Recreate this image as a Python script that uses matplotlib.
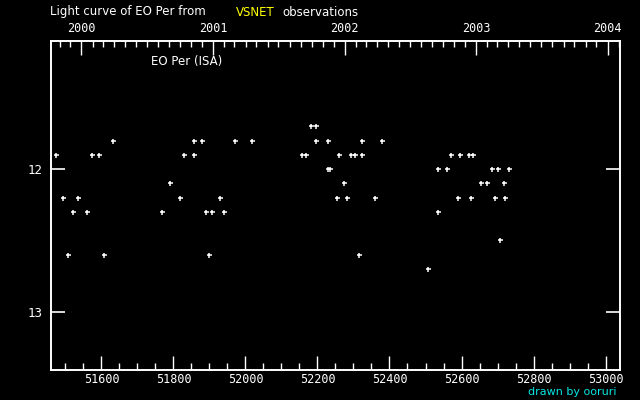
import matplotlib
matplotlib.use("Agg")
import matplotlib.pyplot as plt
from datetime import date

# JD - 2400000 and visual magnitude
jd = [51475, 51492, 51506, 51522, 51536, 51561, 51575, 51594, 51608, 51631,
      51769, 51789, 51819, 51828, 51858, 51858, 51878, 51889, 51900, 51908,
      51928, 51939, 51972, 52019, 52156, 52169, 52181, 52197, 52197, 52228,
      52228, 52236, 52253, 52261, 52275, 52281, 52293, 52303, 52314, 52325,
      52325, 52361, 52378, 52506, 52536, 52536, 52561, 52572, 52589, 52597,
      52622, 52625, 52633, 52653, 52672, 52686, 52694, 52700, 52708, 52719,
      52722, 52733]
mag = [11.9, 12.2, 12.6, 12.3, 12.2, 12.3, 11.9, 11.9, 12.6, 11.8,
       12.3, 12.1, 12.2, 11.9, 11.8, 11.9, 11.8, 12.3, 12.6, 12.3,
       12.2, 12.3, 11.8, 11.8, 11.9, 11.9, 11.7, 11.7, 11.8, 11.8,
       12.0, 12.0, 12.2, 11.9, 12.1, 12.2, 11.9, 11.9, 12.6, 11.8,
       11.9, 12.2, 11.8, 12.7, 12.0, 12.3, 12.0, 11.9, 12.2, 11.9,
       11.9, 12.2, 11.9, 12.1, 12.1, 12.0, 12.2, 12.0, 12.5, 12.1,
       12.2, 12.0]

xticks = [51600, 51800, 52000, 52200, 52400, 52600, 52800, 53000]
years = [2000, 2001, 2002, 2003, 2004]
yticks = [12, 13]


def to_jd(d):
    return (d - date(2000, 1, 1)).days + 51544.5


fig = plt.figure(figsize=(6.4, 4.0), dpi=100, facecolor="black")
ax = fig.add_axes([0.0792, 0.0743, 0.890, 0.824], facecolor="black")

ax.plot(jd, mag, linestyle="none", marker="+", color="white",
        markersize=3.6, markeredgewidth=1.1)

ax.set_xlim(51459, 53041)
ax.set_ylim(13.41, 11.10)

for s in ax.spines.values():
    s.set_color("white")
    s.set_linewidth(1.2)

mono = "DejaVu Sans Mono"
ax.set_xticks(xticks)
ax.set_xticklabels([str(v) for v in xticks], family=mono, fontsize=8.5)
ax.set_xticks(range(51500, 53041, 50), minor=True)
ax.set_yticks(yticks)
ax.set_yticklabels([str(v) for v in yticks], family=mono, fontsize=9)
ax.tick_params(axis="x", which="major", direction="in", length=10,
               width=1, colors="white", pad=2, top=False)
ax.tick_params(axis="x", which="minor", direction="in", length=5,
               width=1, colors="white", top=False)
ax.tick_params(axis="y", which="major", direction="in", length=10,
               width=1.2, colors="white", right=True, pad=6)

# top axis: calendar years with monthly minor ticks
top = ax.twiny()
top.set_xlim(ax.get_xlim())
top.set_xticks([to_jd(date(y, 1, 1)) for y in years])
top.set_xticklabels([str(y) for y in years], family=mono, fontsize=8.5)
months = [to_jd(date(y, m, 1)) for y in range(1999, 2005) for m in range(1, 13)]
months = [m for m in months if 51459 <= m <= 53041]
top.set_xticks(months, minor=True)
top.tick_params(axis="x", which="major", direction="in", length=10,
                width=1, colors="white", pad=4)
top.tick_params(axis="x", which="minor", direction="in", length=4,
                width=1, colors="white")
for s in top.spines.values():
    s.set_color("white")
    s.set_linewidth(1.2)

ax.text(0.1756, 0.938, "EO Per (ISA)", transform=ax.transAxes,
        color="white", fontsize=8.5, va="center", ha="left")

fig.text(50 / 640, 1 - 12 / 400, "Light curve of EO Per from",
         color="white", fontsize=8.5, va="center", ha="left")
fig.text(236 / 640, 1 - 12 / 400, "VSNET", color="yellow",
         fontsize=8.5, va="center", ha="left")
fig.text(282 / 640, 1 - 12 / 400, "observations", color="white",
         fontsize=8.5, va="center", ha="left")
fig.text(617 / 640, 1 - 392 / 400, "drawn by ooruri", color="#00e5e5",
         fontsize=8, va="center", ha="right")

fig.savefig("out.png", dpi=100, facecolor="black")
